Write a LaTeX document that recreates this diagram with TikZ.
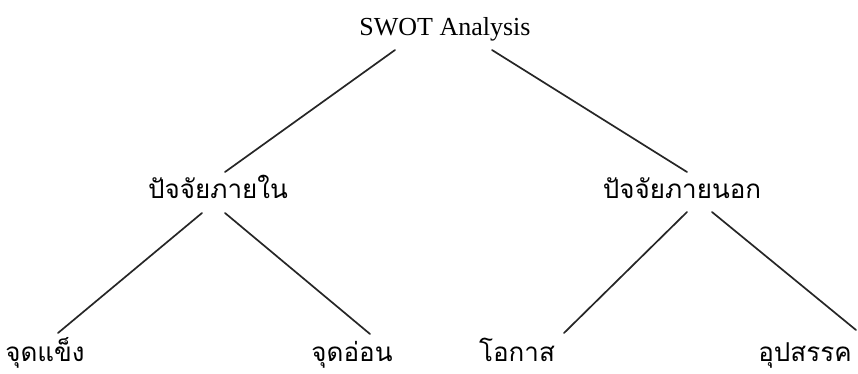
\documentclass[tikz,border=0pt]{standalone}
\usepackage{fontspec}
\setmainfont{Liberation Serif}
\newfontfamily\thaifont[Script=Thai]{Loma}
\usetikzlibrary{calc}
\begin{document}
\begin{tikzpicture}[x=1pt, y=-1pt, line cap=round, line join=round,
	latin/.style={font=\fontsize{26}{30}\selectfont, anchor=base, inner sep=0pt},
	thai/.style={font=\thaifont\fontsize{26}{30}\selectfont, anchor=base, inner sep=0pt},
	branch/.style={line width=1.7pt, draw=black!85}]
				\useasboundingbox (0,0) rectangle (858,373);
				\node[latin] (swot) at (445,35) {SWOT Analysis};
				\node[thai] (inner) at (218,198) {ปัจจัยภายใน};
				\node[thai] (outer) at (682,198) {ปัจจัยภายนอก};
				\node[thai] (strength) at (45,361) {จุดแข็ง};
				\node[thai] (weakness) at (352,361) {จุดอ่อน};
				\node[thai] (opportunity) at (517,361) {โอกาส};
				\node[thai] (threat) at (805,361) {อุปสรรค};
				% top level
				\draw[branch] ($(swot.base)+(-50,15)$)--($(inner.base)+(7,-26)$);
				\draw[branch] ($(swot.base)+(47,15)$)--($(outer.base)+(5,-26)$);
				% second level
				\draw[branch] ($(inner.base)+(-16,15)$)--($(strength.base)+(13,-28)$);
				\draw[branch] ($(inner.base)+(7,15)$)--($(weakness.base)+(18,-27)$);
				\draw[branch] ($(outer.base)+(5,14)$)--($(opportunity.base)+(47,-28)$);
				\draw[branch] ($(outer.base)+(30,14)$)--($(threat.base)+(51,-31)$);
			\end{tikzpicture}
\end{document}
